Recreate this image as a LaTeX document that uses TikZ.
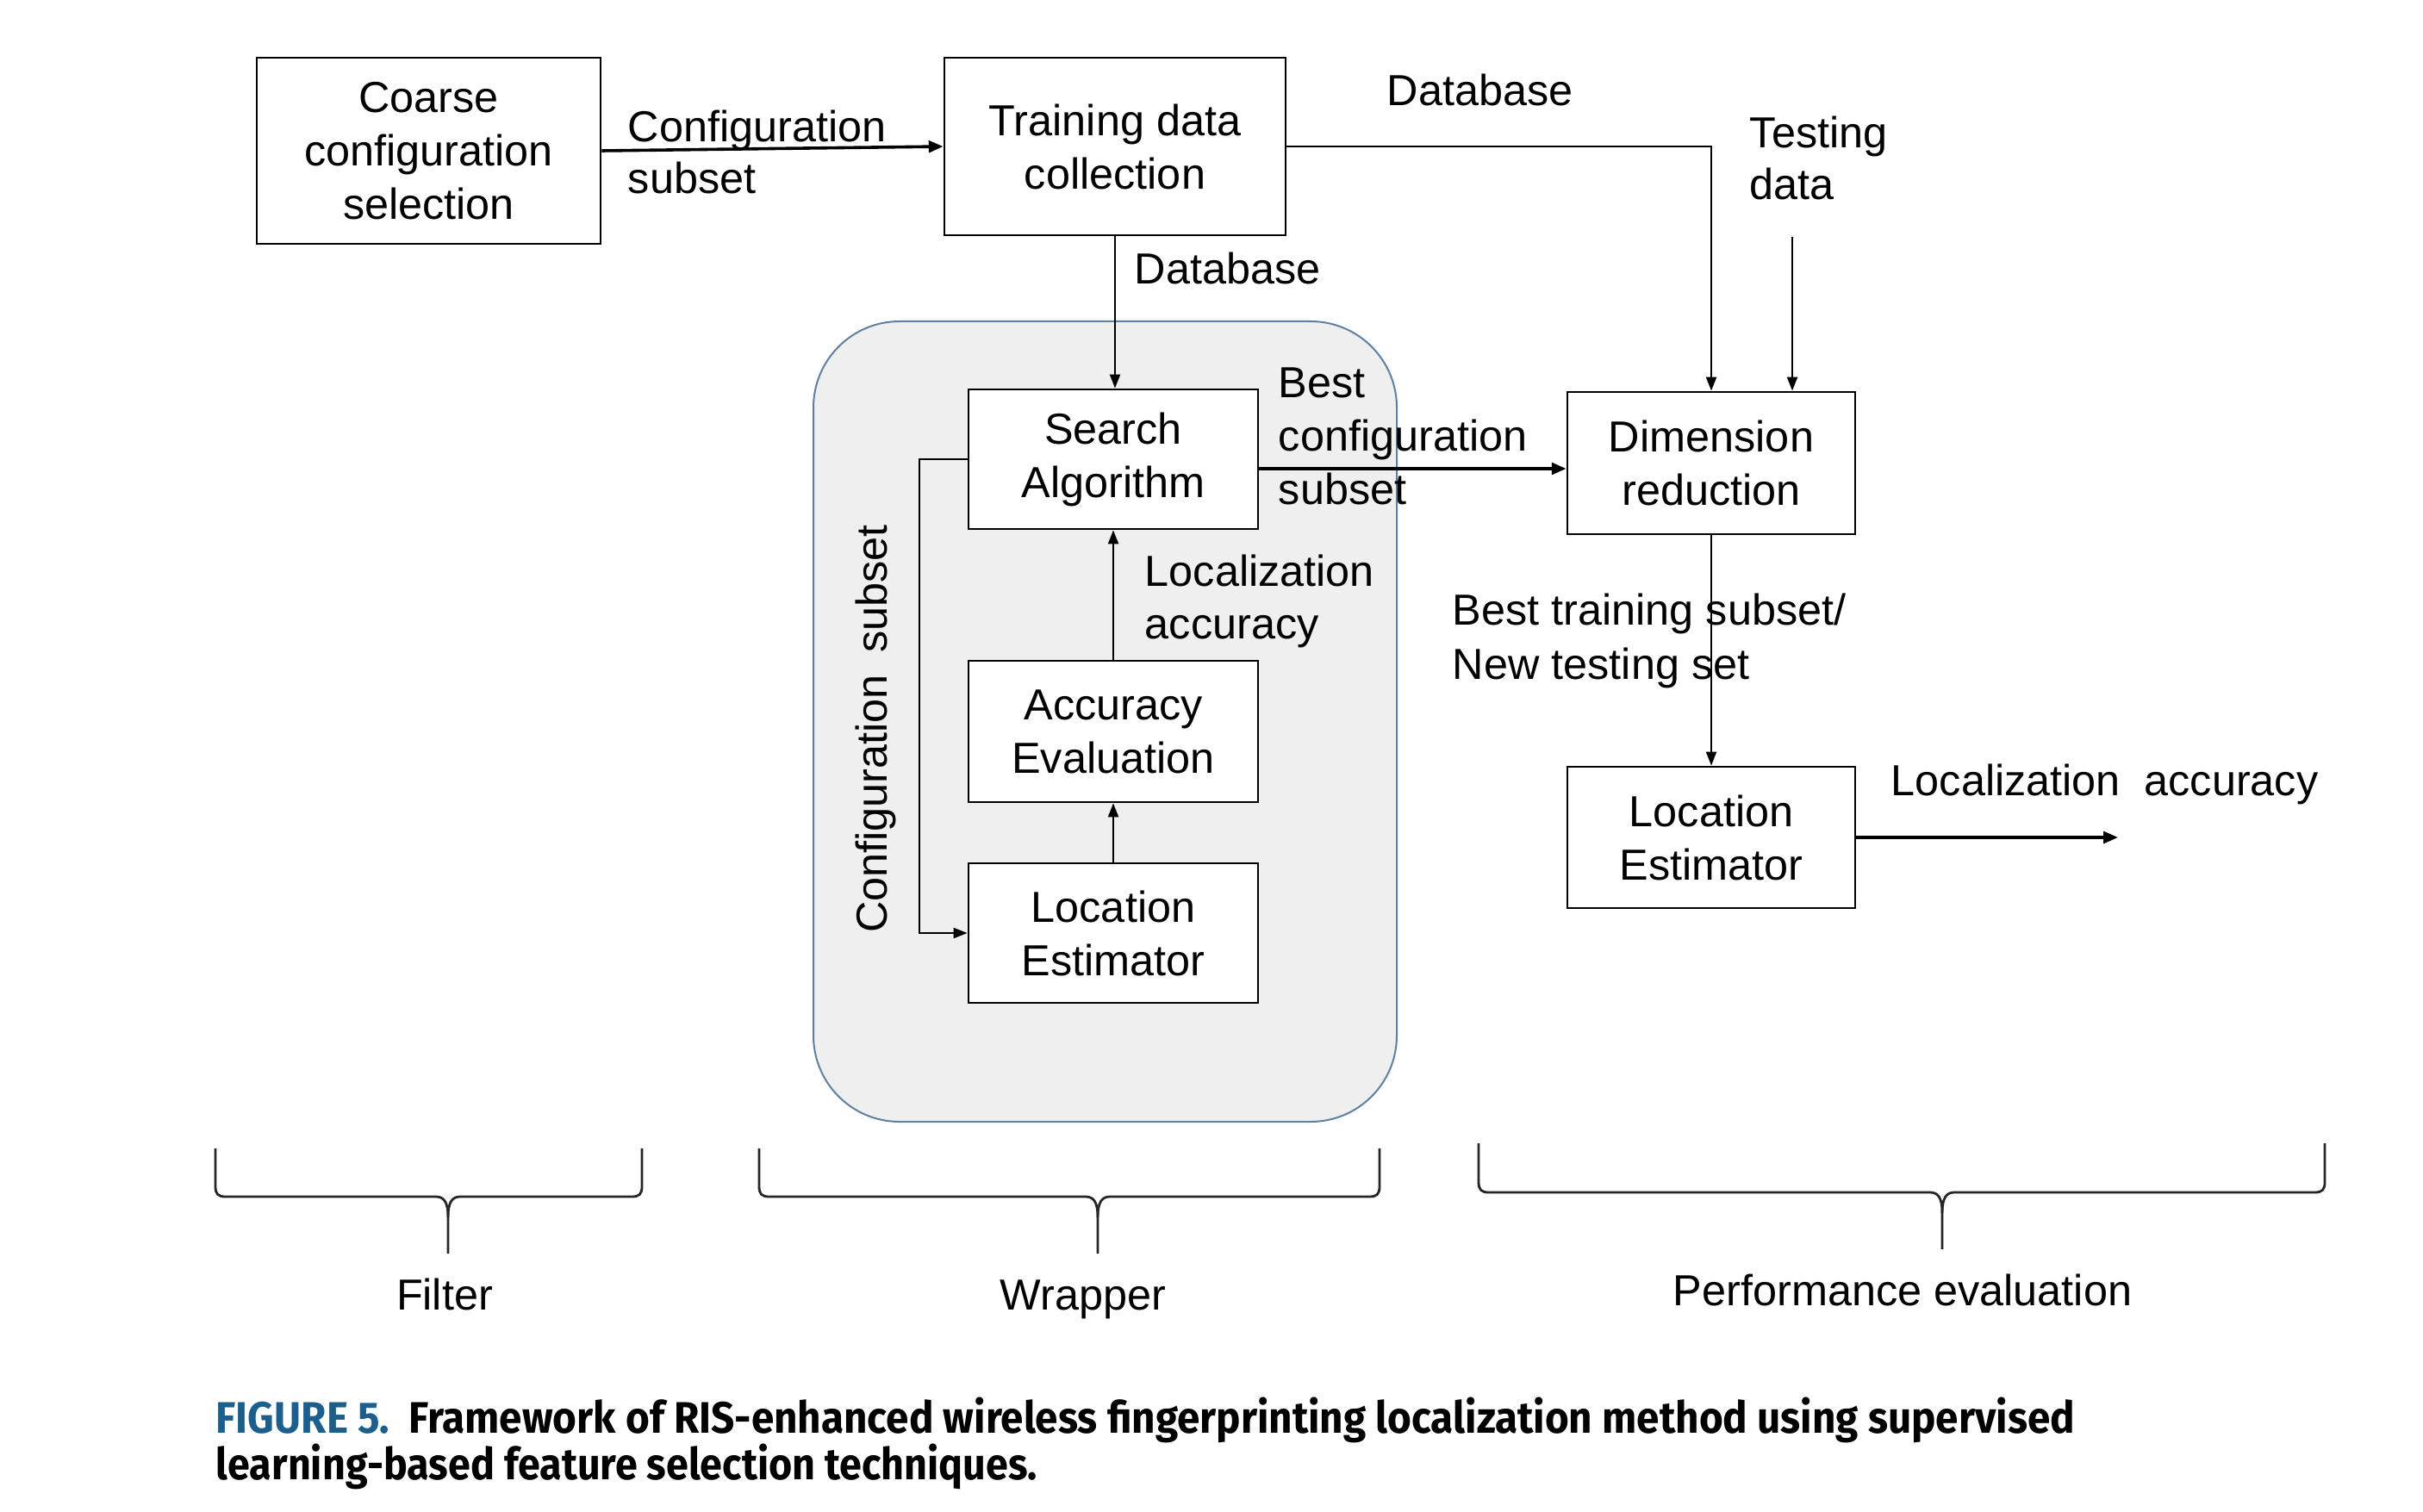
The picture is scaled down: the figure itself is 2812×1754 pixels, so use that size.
\documentclass[tikz,border=0pt]{standalone}
\usepackage{fontspec}
\setmainfont{Liberation Sans}
\newfontfamily\capfont{Fira Sans}
\usetikzlibrary{arrows.meta}
\definecolor{capblue}{RGB}{28,95,140}
\definecolor{regfill}{RGB}{239,239,239}
\definecolor{regline}{RGB}{95,128,160}
\newcommand{\mybrace}[6]{%
  \draw[bracestyle] (#1,#4) -- (#1,#5-12) .. controls (#1,#5-3) and (#1+3,#5) .. (#1+12,#5)
    -- (#3-14,#5) .. controls (#3-5,#5) and (#3,#5+6) .. (#3,#5+24) -- (#3,#6);
  \draw[bracestyle] (#2,#4) -- (#2,#5-12) .. controls (#2,#5-3) and (#2-3,#5) .. (#2-12,#5)
    -- (#3+14,#5) .. controls (#3+5,#5) and (#3,#5+6) .. (#3,#5+24);}
\begin{document}
\begin{tikzpicture}[x=0.25pt,y=-0.25pt,
  every node/.style={font=\fontsize{12.6pt}{15.5pt}\selectfont},
  box/.style={draw, line width=0.7pt, fill=white, inner sep=0pt, align=center},
  lbl/.style={anchor=base west, inner sep=0pt},
  thinarr/.style={line width=0.5pt, -{Triangle[length=4pt,width=3pt]}},
  thickarr/.style={line width=0.9pt, -{Triangle[length=4.2pt,width=3.4pt]}},
  bracestyle/.style={line width=0.7pt, draw=black!85},
  capstyle/.style={anchor=base west, inner sep=0pt, font=\capfont\bfseries\fontsize{12.8pt}{14pt}\selectfont},
  region/.style={draw=regline, line width=0.5pt, fill=regfill, rounded corners=25pt, inner sep=0pt}]
\useasboundingbox (0,0) rectangle (2812,1754);
\fill[white] (0,0) rectangle (2812,1754);

% wrapper region
\node[region, minimum width=169.25pt, minimum height=232.25pt] (wrap) at (1282.5,837.5) {};

% boxes
\node[box, minimum width=99.75pt, minimum height=54pt] (coarse) at (497.5,175) {Coarse\\configuration\\selection};
\node[box, minimum width=99pt, minimum height=51.5pt] (train) at (1294,170) {Training data\\collection};
\node[box, minimum width=84pt, minimum height=40.5pt] (search) at (1292,533) {Search\\Algorithm};
\node[box, minimum width=84pt, minimum height=41pt] (acc) at (1292,849) {Accuracy\\Evaluation};
\node[box, minimum width=84pt, minimum height=40.5pt] (loc1) at (1292,1083) {Location\\Estimator};
\node[box, minimum width=83.5pt, minimum height=41.25pt] (dim) at (1986,537.5) {Dimension\\reduction};
\node[box, minimum width=83.5pt, minimum height=41pt] (loc2) at (1986,972) {Location\\Estimator};

% connectors
\draw[thickarr] (coarse.east) -- (train.west);
\draw[thinarr] (train.east) -| (dim.north);
\coordinate (testsrc) at (2080,275);
\draw[thinarr] (testsrc) -- (testsrc |- dim.north);
\draw[thinarr] (train.south) -- (train.south |- search.north);
\coordinate (bcy) at (0,544);
\draw[thickarr] (search.east |- bcy) -- (dim.west |- bcy);
\draw[thinarr] (acc.north) -- (search.south);
\draw[thinarr] (loc1.north) -- (acc.south);
\draw[thinarr] (search.west) -- ++(-56,0) |- (loc1.west);
\draw[thinarr] (dim.south) -- (loc2.north);
\coordinate (outend) at (2458,972);
\draw[thickarr] (loc2.east) -- (outend);

% labels
\node[lbl] (cfg1) at (728,165) {Configuration};
\node[lbl] (cfg2) at (728,225) {subset};
\node[lbl] (db1) at (1609,123) {Database};
\node[lbl] (test1) at (2030,172) {Testing};
\node[lbl] (test2) at (2030,232) {data};
\node[lbl] (db2) at (1316,330) {Database};
\node[lbl] (best1) at (1483,461) {Best};
\node[lbl] (best2) at (1483,523) {configuration};
\node[lbl] (best3) at (1483,585) {subset};
\node[lbl] (la1) at (1328,680) {Localization};
\node[lbl] (la2) at (1328,741) {accuracy};
\node[lbl] (bt1) at (1685,725) {Best training subset/};
\node[lbl] (bt2) at (1685,788) {New testing set};
\node[lbl] (outlbl) at (2194,923) {Localization\hspace{0.55em}accuracy};
\node[rotate=90, anchor=base, inner sep=0pt] (cfgrot) at (1029,846) {Configuration\hspace{0.5em}subset};

% braces
\mybrace{250}{745}{520}{1333}{1389}{1455}
\mybrace{881}{1601}{1274}{1333}{1389}{1455}
\mybrace{1716}{2698}{2254}{1327}{1384}{1450}
\node[anchor=base, inner sep=0pt] (filter) at (516,1520) {Filter};
\node[anchor=base, inner sep=0pt] (wrapper) at (1257,1520) {Wrapper};
\node[anchor=base, inner sep=0pt] (perf) at (2208,1515) {Performance evaluation};

% caption
\node[capstyle] (cap1) at (250,1663)
  {\resizebox{539.25pt}{\height}{{\color{capblue}FIGURE 5.}\hspace{6pt}Framework of RIS-enhanced wireless fingerprinting localization method using supervised}};
\node[capstyle] (cap2) at (250,1717)
  {\resizebox{238.25pt}{\height}{learning-based feature selection techniques.}};
\end{tikzpicture}
\end{document}
